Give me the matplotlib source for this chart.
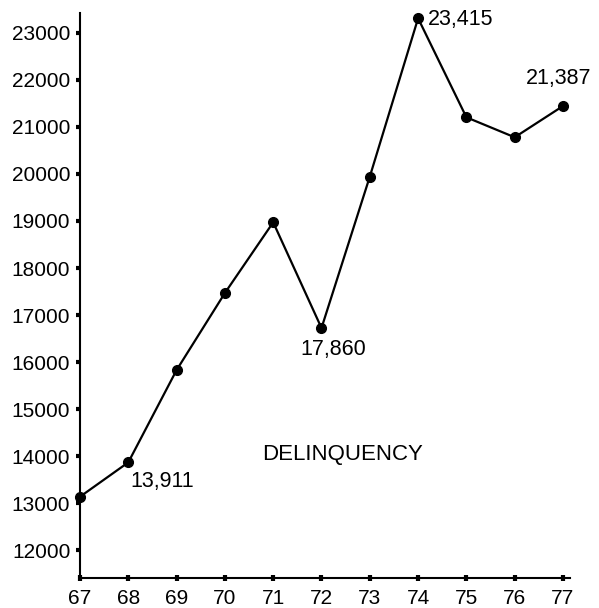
import matplotlib.pyplot as plt

plt.rcParams['font.family'] = ['Liberation Sans', 'DejaVu Sans']

years = [67, 68, 69, 70, 71, 72, 73, 74, 75, 76, 77]
year_labels = ["67", "68", "69", "70", "71", "72", "73", "74", "75", "76", "77"]
cases = [13134, 13865, 15829, 17468, 18972, 16723, 19943, 23312, 21206, 20781, 21446]
yticks = [12000, 13000, 14000, 15000, 16000, 17000, 18000, 19000, 20000, 21000, 22000, 23000]

# printed labels on the original chart: (year, text, offset in pixels, alignment)
notes = [
    (68, "13,911", (2, -19), "left"),
    (72, "17,860", (12, -21), "center"),
    (74, "23,415", (10, -1), "left"),
    (77, "21,387", (-4, 28), "center"),
]

fig = plt.figure(figsize=(5.99, 6.08), dpi=100)
ax = fig.add_axes([80 / 599, 30 / 608, 490 / 599, 565 / 608])

ax.plot(years, cases, color="black", lw=1.6, marker="o", ms=7, clip_on=False, zorder=3)

for yr, txt, off, ha in notes:
    i = years.index(yr)
    ax.annotate(txt, (yr, cases[i]), xytext=off, textcoords="offset pixels",
                ha=ha, va="center", fontsize=15.5)
ax.text(0.535, 0.218, "DELINQUENCY", transform=ax.transAxes, ha="center", va="center", fontsize=16)

ax.set_xlim(67, 77.145)
ax.set_ylim(11405, 23425)
ax.set_xticks(years)
ax.set_xticklabels(year_labels)
ax.set_yticks(yticks)
ax.set_yticklabels([str(v) for v in yticks])

for s in ["top", "right"]:
    ax.spines[s].set_visible(False)
for s in ["left", "bottom"]:
    ax.spines[s].set_linewidth(1.5)

ax.tick_params(axis="x", direction="inout", length=4, width=3, pad=6, labelsize=15)
ax.tick_params(axis="y", direction="out", length=3, width=3, pad=4, labelsize=15)

fig.savefig("out.png", dpi=100)
